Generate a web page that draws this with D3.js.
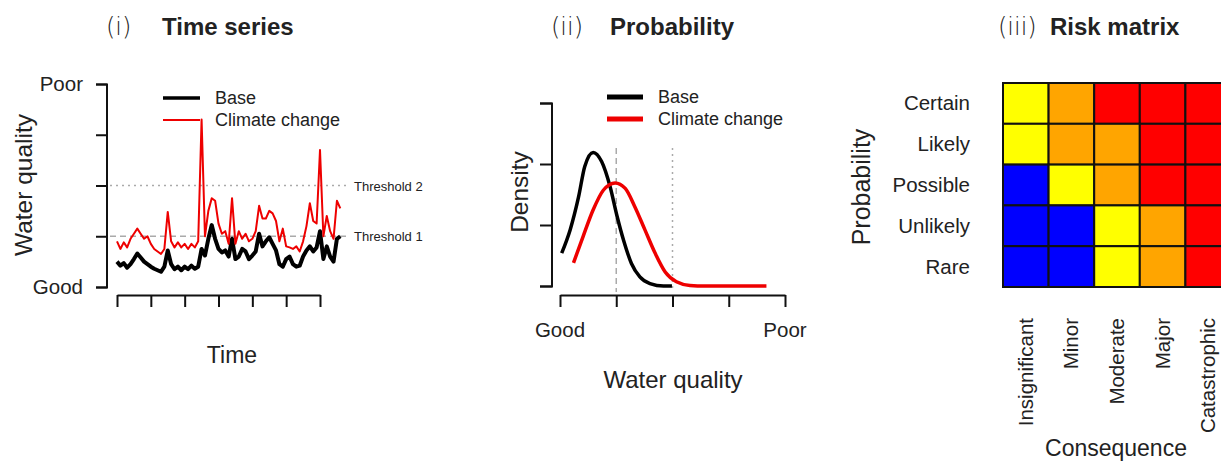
<!DOCTYPE html>
<meta charset="utf-8">
<head>
  <title>Water quality risk</title>
  <script src="https://d3js.org/d3.v7.min.js"></script>
</head>
<style>
body { margin: 0; background: #fff; }
text { font-family: "Liberation Sans", Arial, sans-serif; fill: #222; }
.title { font-weight: bold; font-size: 24px; }
.num { font-family: "DejaVu Sans", sans-serif; font-weight: 300; font-size: 24px; fill: #222; }
.axis path, .axis line { stroke: #111; stroke-width: 2px; }
</style>
<body>
<svg width="1221" height="463"></svg>
<script>

// ---- panel (i) time series ----
let tsTicks = [0, 10, 20, 30, 40, 50, 60];
let baseTS = [0.50, 0.42, 0.47, 0.38, 0.45, 0.55, 0.66, 0.58, 0.50, 0.45, 0.40, 0.36, 0.33, 0.30, 0.40, 0.72,
  0.45, 0.35, 0.40, 0.33, 0.40, 0.35, 0.42, 0.36, 0.40, 0.75, 0.62, 0.95, 1.22, 0.95, 0.75, 0.68, 0.72, 0.60,
  0.95, 0.55, 0.60, 0.75, 0.70, 0.55, 0.62, 0.70, 1.05, 0.80, 0.90, 0.98, 0.85, 0.72, 0.45, 0.40, 0.55, 0.60,
  0.45, 0.40, 0.42, 0.60, 0.72, 0.80, 0.70, 0.78, 1.10, 0.55, 0.80, 0.60, 0.50, 0.95, 1.00];
let climateTS = [0.90, 0.75, 0.88, 0.78, 0.95, 1.05, 1.15, 1.05, 0.95, 1.00, 0.85, 0.75, 0.70, 0.65, 0.75, 1.48,
  0.90, 0.78, 0.88, 0.78, 0.85, 0.75, 0.85, 0.78, 0.90, 3.30, 1.00, 1.50, 1.75, 1.70, 1.25, 1.05, 1.10, 0.85,
  1.75, 0.85, 1.10, 0.95, 1.05, 0.90, 0.95, 1.10, 1.60, 1.35, 1.35, 1.50, 1.45, 1.30, 0.90, 1.15, 0.80, 0.78,
  0.75, 0.80, 0.70, 0.90, 1.20, 1.65, 1.30, 1.25, 2.70, 1.00, 1.40, 1.10, 0.95, 1.70, 1.55];
let qualityTicks = [0, 1, 2, 3, 4];
let qualityEnds = {0: "Good", 4: "Poor"};
let thresholds = [{v: 1, name: "Threshold 1", dash: "6,4"}, {v: 2, name: "Threshold 2", dash: "2,4"}];

// ---- panel (ii) density ----
let baseDens = [[0.03, 0.54], [0.18, 0.92], [0.33, 1.46], [0.44, 1.96], [0.59, 2.19], [0.74, 2.04], [0.89, 1.63],
  [1.01, 1.16], [1.13, 0.75], [1.27, 0.37], [1.42, 0.15], [1.60, 0.04], [1.84, 0.0], [1.99, 0.0]];
let climateDens = [[0.24, 0.38], [0.41, 0.81], [0.59, 1.25], [0.77, 1.57], [0.98, 1.69], [1.16, 1.60], [1.33, 1.30],
  [1.51, 0.92], [1.69, 0.54], [1.87, 0.23], [2.07, 0.07], [2.31, 0.01], [2.58, 0.0], [3.67, 0.0]];
let densTicks = [0, 1, 2, 3];

// ---- panel (iii) risk matrix ----
let probLevels = ["Certain", "Likely", "Possible", "Unlikely", "Rare"];
let consLevels = ["Insignificant", "Minor", "Moderate", "Major", "Catastrophic"];
let riskRows = [
  ["Y", "O", "R", "R", "R"],
  ["Y", "O", "O", "R", "R"],
  ["B", "Y", "O", "R", "R"],
  ["B", "B", "Y", "O", "R"],
  ["B", "B", "Y", "O", "R"]
];
let riskColour = {B: "#0000ff", Y: "#ffff00", O: "#ffa500", R: "#ff0000"};

let svg = d3.select("svg");

// titles
let titles = [["(i)", "Time series", 106, 162], ["(ii)", "Probability", 551, 610], ["(iii)", "Risk matrix", 998, 1050]];
titles.forEach(function(t) {
  svg.append("text").attr("class", "num").attr("x", t[2]).attr("y", 35).text(t[0]);
  svg.append("text").attr("class", "title").attr("x", t[3]).attr("y", 35).text(t[1]);
});

// ================= panel (i) =================
let x1 = d3.scaleLinear().domain([0, 60]).range([117, 320]);
let y1 = d3.scaleLinear().domain([0, 4]).range([287, 84]);

let g1 = svg.append("g");
g1.append("g").attr("class", "axis").attr("transform", "translate(107,0)")
  .call(d3.axisLeft(y1).tickValues(qualityTicks).tickSize(11).tickFormat(""))
  .call(g => g.select(".domain").attr("d", "M-11,84.5H0V287.5H-11"));
g1.append("g").attr("class", "axis").attr("transform", "translate(0,295)")
  .call(d3.axisBottom(x1).tickValues(tsTicks).tickSize(12).tickSizeOuter(0).tickFormat(""));

qualityTicks.filter(d => qualityEnds[d]).forEach(function(d) {
  g1.append("text").attr("x", 83).attr("y", y1(d) + 7).attr("text-anchor", "end")
    .style("font-size", "20.5px").text(qualityEnds[d]);
});
g1.append("text").attr("transform", "translate(32,185) rotate(-90)").attr("text-anchor", "middle")
  .style("font-size", "24.5px").text("Water quality");
g1.append("text").attr("x", 232).attr("y", 363).attr("text-anchor", "middle")
  .style("font-size", "23px").text("Time");

thresholds.forEach(function(t) {
  g1.append("line").attr("x1", 110).attr("x2", 348).attr("y1", y1(t.v)).attr("y2", y1(t.v))
    .attr("stroke", "#aaa").attr("stroke-width", 1.5).attr("stroke-dasharray", t.dash);
  g1.append("text").attr("x", 354).attr("y", y1(t.v) + 5).style("font-size", "13px").text(t.name);
});

let line1 = d3.line().x((d, i) => x1(i)).y(d => y1(d));
g1.append("path").datum(baseTS).attr("d", line1).attr("fill", "none")
  .attr("stroke", "#000").attr("stroke-width", 4).attr("stroke-linejoin", "round");
g1.append("path").datum(climateTS).attr("d", line1).attr("fill", "none")
  .attr("stroke", "#ee0000").attr("stroke-width", 2).attr("stroke-linejoin", "round");

// legend (i)
[["Base", "#000", 3.5], ["Climate change", "#ee0000", 2]].forEach(function(l, i) {
  let yy = 98 + i * 22;
  g1.append("line").attr("x1", 163).attr("x2", 200).attr("y1", yy).attr("y2", yy)
    .attr("stroke", l[1]).attr("stroke-width", l[2]);
  g1.append("text").attr("x", 215).attr("y", yy + 6).style("font-size", "18px").text(l[0]);
});

// ================= panel (ii) =================
let x2 = d3.scaleLinear().domain([0, 4]).range([560, 785]);
let y2 = d3.scaleLinear().domain([0, 3]).range([286, 103]);

let g2 = svg.append("g");
g2.append("g").attr("class", "axis").attr("transform", "translate(552,0)")
  .call(d3.axisLeft(y2).tickValues(densTicks).tickSize(12).tickFormat(""))
  .call(g => g.select(".domain").attr("d", "M-12,103.5H0V286.5H-12"));
g2.append("g").attr("class", "axis").attr("transform", "translate(0,295)")
  .call(d3.axisBottom(x2).tickValues(qualityTicks).tickSize(12).tickSizeOuter(0).tickFormat(""));

qualityTicks.filter(d => qualityEnds[d]).forEach(function(d) {
  g2.append("text").attr("x", x2(d)).attr("y", 337).attr("text-anchor", "middle")
    .style("font-size", "20.5px").text(qualityEnds[d]);
});
g2.append("text").attr("transform", "translate(528,192) rotate(-90)").attr("text-anchor", "middle")
  .style("font-size", "24.5px").text("Density");
g2.append("text").attr("x", 673).attr("y", 388).attr("text-anchor", "middle")
  .style("font-size", "24px").text("Water quality");

thresholds.forEach(function(t) {
  g2.append("line").attr("x1", x2(t.v)).attr("x2", x2(t.v)).attr("y1", 148).attr("y2", 292)
    .attr("stroke", "#aaa").attr("stroke-width", 1.5).attr("stroke-dasharray", t.dash);
});

let line2 = d3.line().x(d => x2(d[0])).y(d => y2(d[1])).curve(d3.curveMonotoneX);
g2.append("path").datum(baseDens).attr("d", line2).attr("fill", "none")
  .attr("stroke", "#000").attr("stroke-width", 3.5);
g2.append("path").datum(climateDens).attr("d", line2).attr("fill", "none")
  .attr("stroke", "#ee0000").attr("stroke-width", 3.5);

[["Base", "#000"], ["Climate change", "#ee0000"]].forEach(function(l, i) {
  let yy = 97 + i * 22;
  g2.append("line").attr("x1", 607).attr("x2", 643).attr("y1", yy).attr("y2", yy)
    .attr("stroke", l[1]).attr("stroke-width", 5);
  g2.append("text").attr("x", 658).attr("y", yy + 6).style("font-size", "18px").text(l[0]);
});

// ================= panel (iii) =================
let x3 = d3.scaleBand().domain(consLevels).range([1003, 1231]);
let y3 = d3.scaleBand().domain(probLevels).range([83, 287]);

let g3 = svg.append("g");
riskRows.forEach(function(row, r) {
  row.forEach(function(c, k) {
    g3.append("rect")
      .attr("x", x3(consLevels[k])).attr("y", y3(probLevels[r]))
      .attr("width", x3.bandwidth()).attr("height", y3.bandwidth())
      .attr("fill", riskColour[c]).attr("stroke", "#111").attr("stroke-width", 2);
  });
});

probLevels.forEach(function(p) {
  g3.append("text").attr("x", 970).attr("y", y3(p) + y3.bandwidth() / 2 + 7)
    .attr("text-anchor", "end").style("font-size", "20.5px").text(p);
});
consLevels.forEach(function(c) {
  g3.append("text")
    .attr("transform", "translate(" + (x3(c) + x3.bandwidth() / 2 + 7) + ",318) rotate(-90)")
    .attr("text-anchor", "end").style("font-size", "20.5px").text(c);
});
g3.append("text").attr("transform", "translate(870,187) rotate(-90)").attr("text-anchor", "middle")
  .style("font-size", "25px").text("Probability");
g3.append("text").attr("x", 1116).attr("y", 456).attr("text-anchor", "middle")
  .style("font-size", "23px").text("Consequence");

</script>
</body>
